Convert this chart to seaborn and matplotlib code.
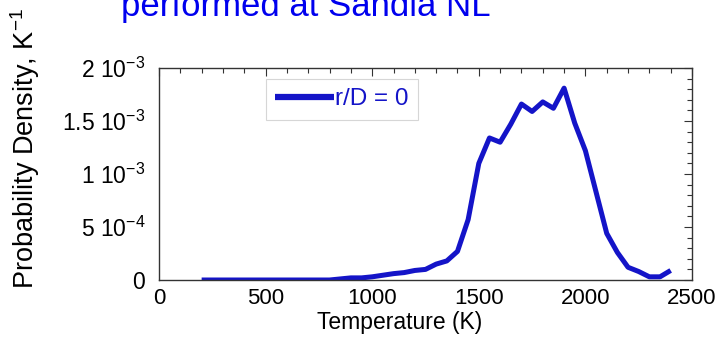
import matplotlib
matplotlib.use("Agg")
import matplotlib.pyplot as plt
from matplotlib.ticker import MultipleLocator, FixedLocator, FixedFormatter
import seaborn as sns
import pandas as pd

# Temperature PDF at the centreline
temperature = [200, 250, 300, 350, 400, 450, 500, 550, 600, 650, 700, 750, 800,
               850, 900, 950, 1000, 1050, 1100, 1150, 1200, 1250, 1300, 1350,
               1400, 1450, 1500, 1550, 1600, 1650, 1700, 1750, 1800, 1850,
               1900, 1950, 2000, 2050, 2100, 2150, 2200, 2250, 2300, 2350, 2400]
density = [0, 0, 0, 0, 0, 0, 0, 0, 0, 0, 0, 0, 0,
           1.0e-5, 2.0e-5, 2.0e-5, 3.0e-5, 4.5e-5, 6.0e-5, 7.0e-5, 9.0e-5,
           1.0e-4, 1.5e-4, 1.8e-4, 2.7e-4, 5.7e-4, 1.10e-3, 1.34e-3, 1.30e-3,
           1.47e-3, 1.66e-3, 1.59e-3, 1.68e-3, 1.62e-3, 1.81e-3, 1.48e-3,
           1.22e-3, 8.3e-4, 4.4e-4, 2.6e-4, 1.2e-4, 8.0e-5, 3.0e-5, 3.0e-5, 9.0e-5]
series_label = "r/D = 0"

y_ticks = [0, 5e-4, 1e-3, 1.5e-3, 2e-3]
y_tick_labels = ["0", r"5 10$^{-4}$", r"1 10$^{-3}$", r"1.5 10$^{-3}$", r"2 10$^{-3}$"]

sns.set_theme(style="white")
plt.rcParams["font.family"] = ["Liberation Sans", "DejaVu Sans"]
plt.rcParams["mathtext.fontset"] = "custom"
plt.rcParams["mathtext.rm"] = "Liberation Sans"
plt.rcParams["mathtext.it"] = "Liberation Sans:italic"
plt.rcParams["mathtext.default"] = "regular"
plt.rcParams["text.color"] = "black"
plt.rcParams["axes.labelcolor"] = "black"
plt.rcParams["xtick.color"] = "black"
plt.rcParams["ytick.color"] = "black"

line_color = "#1414c8"

fig = plt.figure(figsize=(7.19, 3.39), dpi=100)
ax = fig.add_axes([159 / 719, 1 - 280 / 339, (692 - 159) / 719, (280 - 68) / 339])

df = pd.DataFrame({"Temperature": temperature, "Density": density})
sns.lineplot(data=df, x="Temperature", y="Density", ax=ax, color=line_color,
             linewidth=3.6, label=series_label, solid_capstyle="butt")

ax.set_xlim(0, 2500)
ax.set_ylim(0, 2e-3)
ax.xaxis.set_major_locator(MultipleLocator(500))
ax.xaxis.set_minor_locator(MultipleLocator(100))
ax.yaxis.set_major_locator(FixedLocator(y_ticks))
ax.yaxis.set_major_formatter(FixedFormatter(y_tick_labels))
ax.yaxis.set_minor_locator(MultipleLocator(1e-4))

ax.tick_params(which="both", direction="in", top=True, right=True,
               color="#333333", width=0.8)
ax.tick_params(which="major", length=6)
ax.tick_params(which="minor", length=3.5)
ax.tick_params(axis="x", which="major", labelsize=16, pad=6)
ax.tick_params(axis="y", which="major", labelsize=16.5, pad=10)
for s in ax.spines.values():
    s.set_color("#333333")
    s.set_linewidth(1.0)

ax.set_xlabel("Temperature (K)", fontsize=16.5, labelpad=0)
ax.xaxis.set_label_coords(0.452, -0.2)
ax.xaxis.label.set_va("center")
ax.set_ylabel(r"Probability Density, K$^{-1}$", fontsize=19.5)
ax.yaxis.set_label_coords(-0.252, 0.62)
ax.yaxis.label.set_va("center")

leg = ax.legend(loc="upper left", bbox_to_anchor=(0.2, 0.95), fontsize=17.5,
                frameon=True, fancybox=False, handlelength=2.4,
                handletextpad=0.05, borderpad=0.4, borderaxespad=0.0,
                labelcolor=line_color)
leg.get_frame().set_edgecolor("#cccccc")
leg.get_frame().set_linewidth(0.8)
for h in leg.get_lines():
    h.set_linewidth(4.5)

fig.text(0.168, 1 - 16 / 339, "performed at Sandia NL", color="#0000ee",
         fontsize=25, va="baseline", ha="left")

fig.savefig("out.png", dpi=100)
